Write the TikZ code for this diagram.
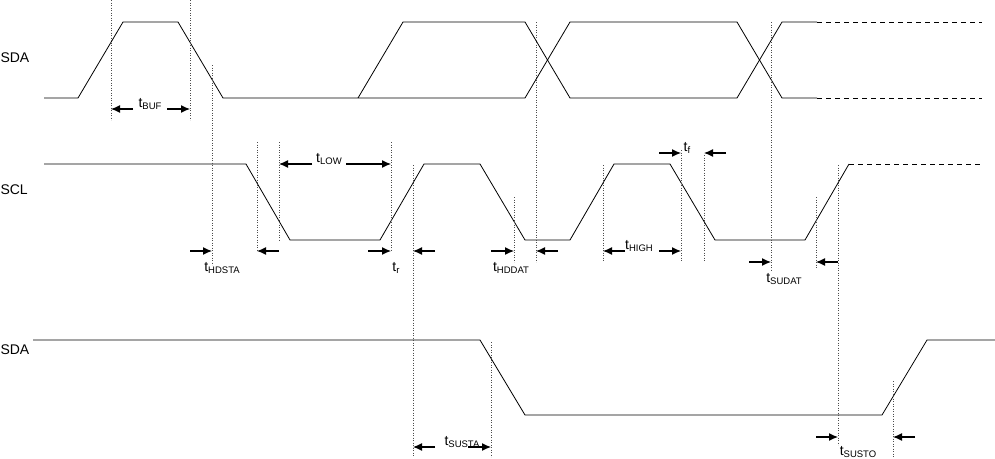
\documentclass[tikz,border=0pt]{standalone}
\usepackage{fontspec}
\setmainfont{Liberation Sans}
\usetikzlibrary{arrows.meta}
\newcommand{\tsub}[1]{t\raisebox{-2.5pt}{\fontsize{9.5}{10}\selectfont #1}}
\begin{document}
\begin{tikzpicture}[
  x=1pt, y=-1pt,
  wave/.style={line width=0.8pt},
  waveDash/.style={line width=0.8pt, dash pattern=on 5pt off 4pt},
  guideLine/.style={line width=0.5pt, dotted, black!70},
  dimArrow/.style={line width=1.2pt, -{Latex[length=9pt,width=8pt]}},
  sigLabel/.style={font=\fontsize{14}{16}\selectfont, anchor=west},
  timeLabel/.style={font=\fontsize{14}{16}\selectfont, inner sep=0pt}]

\useasboundingbox (0,0) rectangle (995,458);

% signal names
\node [sigLabel] (sdaTop) at (-3,58) {SDA};
\node [sigLabel] (scl) at (-3,190) {SCL};
\node [sigLabel] (sdaBot) at (-3,350) {SDA};

% upper SDA
\draw [wave] (44,98) -- (78,98) -- (123,22) -- (178,22) -- (223,98) -- (525,98) -- (570,22) -- (737,22) -- (782,98) -- (817,98);
\draw [wave] (358,98) -- (403,22) -- (525,22) -- (570,98) -- (737,98) -- (782,22) -- (817,22);
\draw [waveDash] (817,22) -- (982,22);
\draw [waveDash] (817,98) -- (982,98);

% SCL
\draw [wave] (44,164) -- (246,164) -- (290,240) -- (380,240) -- (424,164) -- (480,164) -- (525,240) -- (570,240) -- (614,164) -- (670,164) -- (715,240) -- (805,240) -- (849,164);
\draw [waveDash] (849,164) -- (982,164);

% lower SDA
\draw [wave] (33,340) -- (480,340) -- (525,415) -- (882,415) -- (927,340) -- (995,340);

% guide lines
\foreach \gx/\ya/\yb in {111/0/120, 190/0/120, 212/65/265, 257/142/250, 279/142/240,
  391/142/250, 413/165/457, 514/197/262, 536/22/262, 603/165/262, 681/150/262,
  704/155/262, 771/22/270, 816/197/268, 838/165/445, 491/342/457, 893/381/457}
  \draw [guideLine] (\gx,\ya) -- (\gx,\yb);

% timing arrows
\draw [dimArrow] (133,109) -- (111,109);
\draw [dimArrow] (167,109) -- (190,109);
\node [timeLabel] (tBuf) at (150,104) {\tsub{BUF}};

\draw [dimArrow] (190,251) -- (212,251);
\draw [dimArrow] (279,251) -- (257,251);
\node [timeLabel] (tHdSta) at (222,268) {\tsub{HDSTA}};

\draw [dimArrow] (312,164) -- (279,164);
\draw [dimArrow] (346,164) -- (391,164);
\node [timeLabel] (tLow) at (329,159) {\tsub{LOW}};

\draw [dimArrow] (368,251) -- (391,251);
\draw [dimArrow] (435,251) -- (413,251);
\node [timeLabel] (tR) at (396,268) {\tsub{r}};

\draw [dimArrow] (491,251) -- (514,251);
\draw [dimArrow] (558,251) -- (536,251);
\node [timeLabel] (tHdDat) at (511,268) {\tsub{HDDAT}};

\draw [dimArrow] (625,251) -- (603,251);
\draw [dimArrow] (659,251) -- (681,251);
\node [timeLabel] (tHigh) at (639,246) {\tsub{HIGH}};

\draw [dimArrow] (659,153) -- (681,153);
\draw [dimArrow] (726,153) -- (704,153);
\node [timeLabel] (tF) at (687,148) {\tsub{f}};

\draw [dimArrow] (749,262) -- (771,262);
\draw [dimArrow] (838,262) -- (816,262);
\node [timeLabel] (tSuDat) at (784,279) {\tsub{SUDAT}};

\draw [dimArrow] (435,447) -- (413,447);
\draw [dimArrow] (468,447) -- (491,447);
\node [timeLabel] (tSuSta) at (462,442) {\tsub{SUSTA}};

\draw [dimArrow] (816,437) -- (838,437);
\draw [dimArrow] (915,437) -- (893,437);
\node [timeLabel] (tSuSto) at (858,452) {\tsub{SUSTO}};
\end{tikzpicture}
\end{document}
